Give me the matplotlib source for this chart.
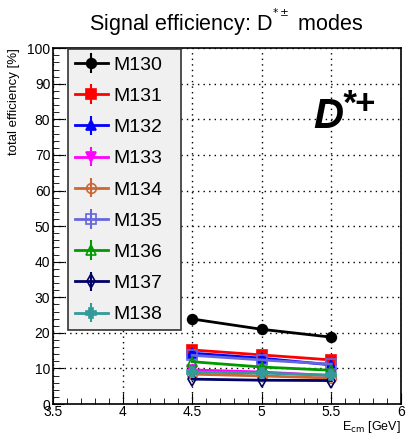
import matplotlib
matplotlib.use("Agg")
import matplotlib.pyplot as plt
from matplotlib.ticker import MultipleLocator

plt.rcParams['font.family'] = ['Liberation Sans', 'DejaVu Sans']

energies = [4.5, 5.0, 5.5]
labels = ["M130", "M131", "M132", "M133", "M134", "M135", "M136", "M137", "M138"]
m130 = [23.9, 21.0, 18.8]
m131 = [15.2, 13.8, 12.4]
m132 = [14.3, 12.9, 11.0]
m133 = [9.6, 9.0, 8.0]
m134 = [8.4, 7.9, 7.3]
m135 = [13.7, 12.4, 11.2]
m136 = [11.9, 10.4, 9.5]
m137 = [7.0, 6.7, 6.6]
m138 = [9.0, 8.7, 8.1]
series = [m130, m131, m132, m133, m134, m135, m136, m137, m138]

colors = ["#000000", "#ff0000", "#0000ff", "#ff00ff", "#cc6633", "#6666dd", "#009900", "#000066", "#339999"]
markers = ["o", "s", "^", "v", "o", "s", "^", "d", "P"]
fills = [True, True, True, True, False, False, False, False, True]

fig = plt.figure(figsize=(4.15, 4.34), dpi=100)
ax = fig.add_axes([0.128, 0.069, 0.838, 0.820])

for vals, lab, c, m, f in zip(series, labels, colors, markers, fills):
    ax.errorbar(energies, vals, yerr=0.25, color=c, marker=m, markersize=7,
                markerfacecolor=c if f else 'none', markeredgecolor=c,
                markeredgewidth=1.2, linewidth=2, elinewidth=1.5, capsize=0, label=lab)

ax.set_xlim(3.5, 6)
ax.set_ylim(0, 100)
ax.xaxis.set_major_locator(MultipleLocator(0.5))
ax.xaxis.set_minor_locator(MultipleLocator(0.1))
ax.yaxis.set_major_locator(MultipleLocator(10))
ax.yaxis.set_minor_locator(MultipleLocator(2))
ax.tick_params(which='both', direction='in', top=False, right=False, labelsize=10)
ax.tick_params(axis='x', which='both', pad=1)
ax.tick_params(axis='y', which='both', pad=2)
ax.tick_params(which='major', length=8)
ax.tick_params(which='minor', length=4)
ax.grid(True, which='major', color='black', linestyle=(0, (1, 3)), linewidth=1)
for s in ax.spines.values():
    s.set_linewidth(1.2)

ax.set_xticks([3.5, 4, 4.5, 5, 5.5, 6])
ax.set_xticklabels(["3.5", "4", "4.5", "5", "5.5", "6"])

ax.set_xlabel(r"E$_{\mathrm{cm}}$ [GeV]", fontsize=9, loc='right', labelpad=0)
ax.set_ylabel("total efficiency [%]", fontsize=9.5, loc='top', labelpad=5)

fig.text(0.545, 0.949, r"Signal efficiency: D$^{^{*\pm}}$ modes", ha='center', va='center', fontsize=15.5)
ax.text(0.835, 0.806, "D", transform=ax.transAxes, ha='right', va='center',
        fontsize=30, fontweight='bold', fontstyle='italic')
ax.text(0.828, 0.842, "*+", transform=ax.transAxes, ha='left', va='center',
        fontsize=25, fontweight='bold', fontstyle='italic')

leg = ax.legend(loc='upper left', bbox_to_anchor=(0.043, 0.0, 0.325, 0.997), mode='expand',
                frameon=True, fancybox=False,
                fontsize=14, handlelength=1.7, labelspacing=0.7, borderpad=0.35,
                handletextpad=0.3, borderaxespad=0.0)
leg.get_frame().set_facecolor('#f0f0f0')
leg.get_frame().set_edgecolor('#333333')
leg.get_frame().set_alpha(1)
leg.get_frame().set_linewidth(1.2)

fig.savefig("out.png", dpi=100)
